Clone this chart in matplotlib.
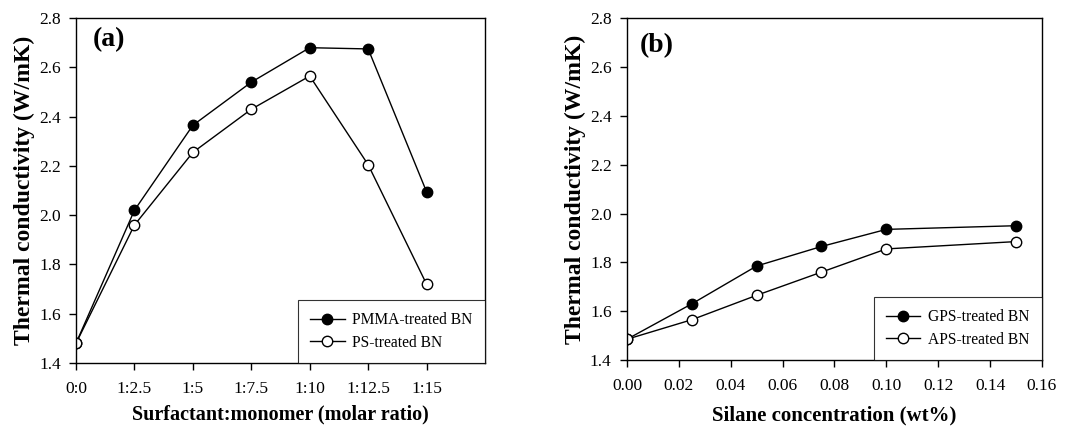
import numpy as np
import matplotlib.pyplot as plt

plt.rcParams['font.family'] = ['Liberation Serif', 'DejaVu Serif']

# panel (a)
ratio_labels = ["0:0", "1:2.5", "1:5", "1:7.5", "1:10", "1:12.5", "1:15"]
pmma_vals = [1.48, 2.02, 2.365, 2.54, 2.68, 2.675, 2.095]
ps_vals = [1.48, 1.96, 2.255, 2.43, 2.565, 2.205, 1.72]

# panel (b)
silane_conc = [0.0, 0.025, 0.05, 0.075, 0.10, 0.15]
gps_vals = [1.485, 1.63, 1.785, 1.865, 1.935, 1.95]
aps_vals = [1.485, 1.565, 1.665, 1.76, 1.855, 1.885]

fig = plt.figure(figsize=(10.69, 4.36), dpi=100)
ax1 = fig.add_axes([0.0711, 0.1674, 0.3826, 0.791])
ax2 = fig.add_axes([0.5865, 0.1743, 0.3882, 0.784])

line_kw = dict(color='black', lw=1.0, markersize=7.5)

xpos = np.arange(len(ratio_labels))
ax1.plot(xpos, pmma_vals, marker='o', mfc='black', label='PMMA-treated BN', **line_kw)
ax1.plot(xpos, ps_vals, marker='o', mfc='white', label='PS-treated BN', **line_kw)
ax1.set_xlim(0, 7)
ax1.set_xticks(xpos)
ax1.set_xticklabels(ratio_labels)
ax1.set_xlabel('Surfactant:monomer (molar ratio)', fontsize=14.5, fontweight='bold', labelpad=5)
ax1.text(0.04, 0.975, '(a)', transform=ax1.transAxes, fontsize=20, fontweight='bold', va='top')

ax2.plot(silane_conc, gps_vals, marker='o', mfc='black', label='GPS-treated BN', **line_kw)
ax2.plot(silane_conc, aps_vals, marker='o', mfc='white', label='APS-treated BN', **line_kw)
ax2.set_xlim(0, 0.16)
ax2.set_xticks(np.arange(0, 0.161, 0.02))
ax2.xaxis.set_major_formatter(plt.FormatStrFormatter('%.2f'))
ax2.set_xlabel('Silane concentration (wt%)', fontsize=15, fontweight='bold', labelpad=8)
ax2.text(0.03, 0.955, '(b)', transform=ax2.transAxes, fontsize=20, fontweight='bold', va='top')

for ax in (ax1, ax2):
    ax.set_ylim(1.4, 2.8)
    ax.set_yticks(np.arange(1.4, 2.81, 0.2))
    ax.yaxis.set_major_formatter(plt.FormatStrFormatter('%.1f'))
    ax.set_ylabel('Thermal conductivity (W/mK)', fontsize=17, fontweight='bold', labelpad=3)
    ax.tick_params(labelsize=12.5, direction='out', length=5, width=1)
    ax.tick_params(axis='y', pad=6)
    ax.tick_params(axis='x', pad=8)
    for s in ax.spines.values():
        s.set_linewidth(1.0)
    leg = ax.legend(loc='lower right', fontsize=11.2, frameon=True, fancybox=False,
                    edgecolor='black', borderaxespad=0, handlelength=2.2,
                    handletextpad=0.5, borderpad=0.8, labelspacing=0.4)
    leg.get_frame().set_linewidth(0.8)

fig.savefig('out.png', dpi=100)
